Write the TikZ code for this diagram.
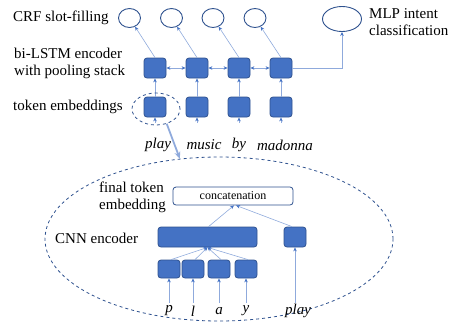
\documentclass[tikz,border=0pt]{standalone}
\usepackage{fontspec}
\setmainfont{Liberation Serif}
\usetikzlibrary{shapes.geometric,arrows.meta,calc}
\definecolor{boxfill}{HTML}{4472C4}
\definecolor{boxline}{HTML}{2F528F}
\definecolor{linecol}{HTML}{8FAADC}
\definecolor{tipcol}{HTML}{4472C4}
\tikzset{
  blk/.style={draw=boxline,fill=boxfill,rounded corners=3pt,line width=0.8pt,inner sep=0pt,minimum width=22pt,minimum height=20pt},
  chr/.style={blk,minimum width=22pt,minimum height=18pt},
  outp/.style={draw=boxline,ellipse,line width=0.9pt,inner sep=0pt,fill=white},
  arr/.style={draw=linecol,line width=0.6pt,-{Stealth[length=4pt,width=3.5pt,color=tipcol]}},
  barr/.style={draw=linecol,line width=0.6pt,{Stealth[length=4pt,width=3.5pt,color=tipcol]}-{Stealth[length=4pt,width=3.5pt,color=tipcol]}},
  lbl/.style={font=\fontsize{15}{17}\selectfont,inner sep=0pt,align=left,anchor=west},
  wrd/.style={font=\fontsize{15}{17}\selectfont\itshape,inner sep=0pt},
  dsh/.style={draw=boxline,dashed,line width=0.8pt,ellipse,inner sep=0pt}
}
\begin{document}
\begin{tikzpicture}[x=1pt,y=-1pt]
\useasboundingbox (0,0) rectangle (452,322);
% big dashed ellipse
\node[dsh,minimum width=348pt,minimum height=164pt] (cloud) at (219,239) {};
% output circles
\foreach \i/\x in {1/129.5,2/171.5,3/213,4/255}{
  \node[outp,minimum width=22pt,minimum height=19pt] (c\i) at (\x,18) {};
}
\node[outp,minimum width=39pt,minimum height=25pt] (mlp) at (342,19) {};
% LSTM and embeddings
\foreach \i/\x in {1/155,2/197,3/239,4/281}{
  \node[blk] (h\i) at (\x,68) {};
  \node[blk] (e\i) at (\x,107) {};
  \coordinate (a\i) at (\x,123);
  \draw[arr] (a\i) -- (e\i);
  \draw[arr] (e\i) -- (h\i);
  \draw[arr] (h\i.north) -- (c\i);
}
\draw[barr] (h1) -- (h2);
\draw[barr] (h2) -- (h3);
\draw[barr] (h3) -- (h4);
\draw[arr] (h4.east) -| (mlp.south);
% words
\node[wrd] (w1) at (158,145) {play};
\node[wrd] (w2) at (204,145) {music};
\node[wrd] (w3) at (239,145) {by};
\node[wrd] (w4) at (285,145) {madonna};
% labels
\node[lbl] (l1) at (13,18) {CRF slot-filling};
\node[lbl] (l2) at (14,63.5) {bi-LSTM encoder\\with pooling stack};
\node[lbl] (l3) at (13,107) {token embeddings};
\node[lbl] (l4) at (369,22.5) {MLP intent\\classification};
% small dashed ellipse and zoom arrow
\node[dsh,minimum width=48pt,minimum height=32pt] (emb) at (156,109) {};
\draw[draw=linecol,line width=1.8pt,-{Stealth[length=7pt,width=6pt]}] (emb.-54) -- (cloud.116);
% inner part
\node[draw=boxline,fill=white,rounded corners=3pt,line width=0.8pt,minimum width=120pt,minimum height=18pt,inner sep=0pt,font=\fontsize{12}{14}\selectfont] (cat) at (233,196) {concatenation};
\node[blk,minimum width=99pt] (cnn) at (207.5,237) {};
\node[blk] (pe) at (295,237) {};
\foreach \i/\x/\t in {1/169/p,2/193/l,3/219/a,4/246/y}{
  \node[chr] (ch\i) at (\x,269) {};
  \node[wrd] (t\i) at (\x,311) {\t};
  \coordinate (b\i) at (\x,303);
  \draw[arr] (b\i) -- (ch\i);
  \draw[arr] ([xshift=2pt]ch\i.north) -- (cnn.south);
}
\node[wrd] (tp) at (298,311) {play};
\coordinate (bp) at (295,303);
\draw[arr] (bp) -- (pe);
\draw[arr] ([xshift=1pt]cnn.north) -- ([xshift=1pt]cat.south);
\draw[arr] ([xshift=-3pt]pe.north) -- ([xshift=3pt]cat.south);
\node[lbl] (l5) at (99,197) {final token\\embedding};
\node[lbl] (l6) at (55,238) {CNN encoder};
\end{tikzpicture}
\end{document}
